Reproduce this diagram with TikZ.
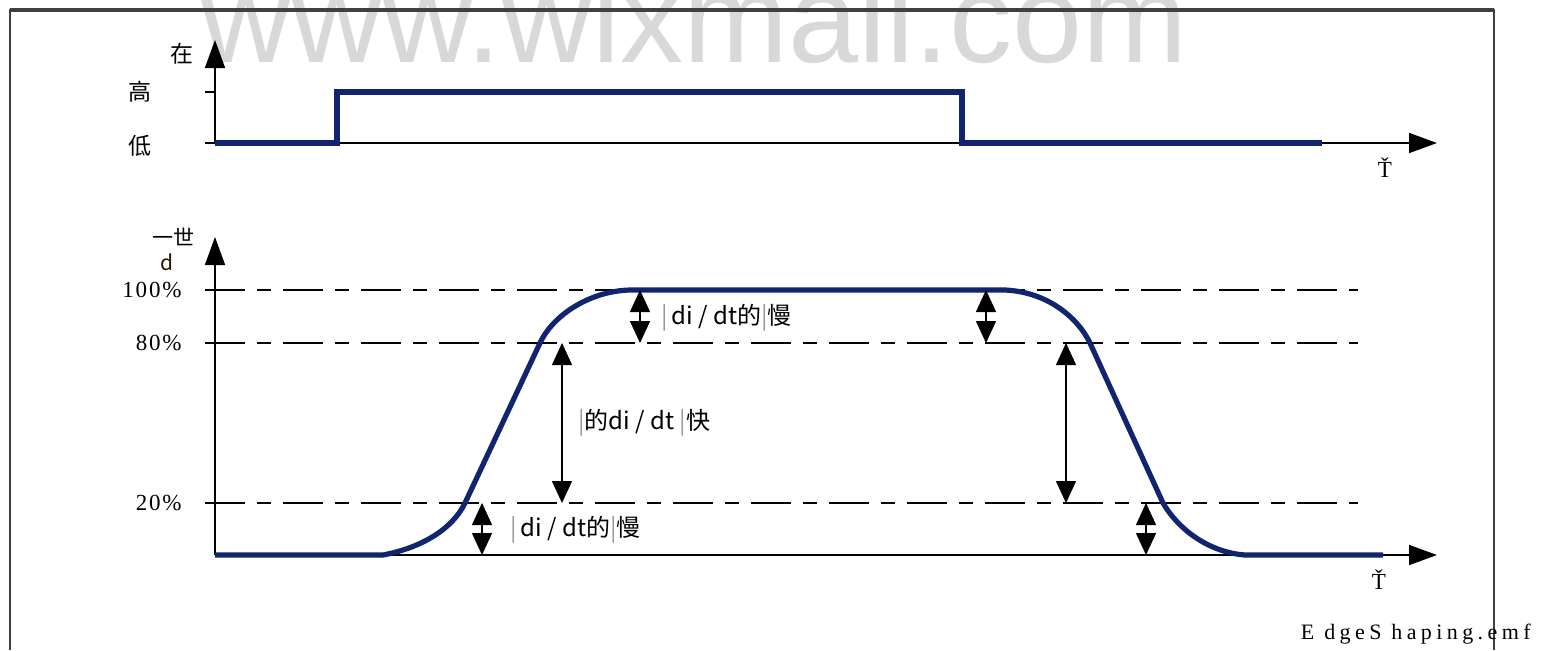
\documentclass[tikz,border=0pt]{standalone}
\usepackage{fontspec}
\setmainfont{Liberation Serif}
\newfontfamily\cjk{Noto Sans CJK SC}
\newfontfamily\wmark{Liberation Sans}
\usetikzlibrary{arrows.meta}

\definecolor{sigblue}{RGB}{16,36,112}
\definecolor{wmgray}{RGB}{216,216,216}
\newcommand{\vbar}{\textcolor{black!40}{|}}

\begin{document}
\begin{tikzpicture}[x=0.5pt, y=-0.5pt,
    sig/.style={sigblue, line width=2.6pt, line join=miter},
    axis/.style={-{Triangle[length=14pt,width=10pt]}, line width=0.8pt},
    level/.style={line width=0.8pt, dash pattern=on 20pt off 6pt on 7pt off 6pt},
    span/.style={{Triangle[length=11pt,width=10pt]}-{Triangle[length=11pt,width=10pt]}, line width=0.7pt},
    lab/.style={font=\cjk\fontsize{12}{14}\selectfont, anchor=west, inner sep=0pt},
    axlab/.style={font=\cjk\fontsize{11.5}{14}\selectfont},
    pct/.style={font=\fontsize{11.5}{13}\selectfont\addfontfeature{LetterSpace=8}, anchor=east, inner sep=0pt}]
    \useasboundingbox (0,0) rectangle (1549,650);
    \clip (0,0) rectangle (1549,650);

    % watermark and frame
    \node[wmgray, font=\wmark\fontsize{63}{63}\selectfont, anchor=base west, inner sep=0pt] (wm) at (200,62) {www.wixmall.com};
    \draw[line width=1pt, black!75] (10,650) -- (10,10) -- (1494,10) -- (1494,650);
    \draw[line width=1.6pt, black!75] (10,10) -- (1494,10);

    % top: logic signal
    \coordinate (o1) at (215,143);
    \coordinate (y1) at (215,40);
    \coordinate (x1) at (1437,143);
    \draw[axis] (o1) -- (y1);
    \draw[axis] (205,143) -- (x1);
    \draw[line width=0.8pt] (205,92) -- (215,92);
    \node[axlab] (zai) at (182,54) {在};
    \node[axlab] (hi) at (140,92) {高};
    \node[axlab] (lo) at (140,146) {低};
    \node[font=\fontsize{11.5}{12}\selectfont] (t1) at (1385,168) {Ť};
    \draw[sig] (o1) -- (337,143) -- (337,92) -- (962,92) -- (962,143) -- (1322,143);

    % bottom: shaped edge
    \coordinate (o2) at (215,555);
    \coordinate (y2) at (215,237);
    \coordinate (x2) at (1437,555);
    \draw[axis] (o2) -- (y2);
    \draw[axis] (o2) -- (x2);
    \foreach \y in {290,343,503}
        \draw[level] (205,\y) -- (1358,\y);
    \node[pct] (p100) at (182,290) {100\%};
    \node[pct] (p80) at (182,343) {80\%};
    \node[pct] (p20) at (182,503) {20\%};
    \node[font=\cjk\fontsize{10.5}{12}\selectfont, inner sep=0pt] (dlab) at (173,237) {一世};
    \node[font=\cjk\fontsize{10.5}{12}\selectfont, inner sep=0pt, black!85!orange] (dsub) at (167,262) {d};
    \node[font=\fontsize{11.5}{12}\selectfont] (t2) at (1379,580) {Ť};

    \draw[sig] (o2) -- (383,555)
        .. controls (420,548) and (452,530) .. (465,503) -- (540,343)
        .. controls (553,315) and (590,291) .. (630,290) -- (1005,290)
        .. controls (1048,292) and (1078,318) .. (1090,343) -- (1163,503)
        .. controls (1182,535) and (1215,553) .. (1245,555) -- (1383,555);

    \foreach \x/\ya/\yb in {640/290/343, 986/290/343, 562/343/503,
                            1066/343/503, 482/503/555, 1146/503/555}
        \draw[span] (\x,\ya) -- (\x,\yb);
    \node[lab] (slow1) at (661,318) {\vbar\,di / dt的\vbar 慢};
    \node[lab] (fast) at (578,423) {\vbar 的di / dt \vbar 快};
    \node[lab] (slow2) at (510,530) {\vbar\,di / dt的\vbar 慢};

    \node[anchor=east, inner sep=0pt, font=\fontsize{11}{12}\selectfont\addfontfeature{LetterSpace=20}] (fname) at (1531,634) {E dgeS haping.emf};
\end{tikzpicture}
\end{document}
